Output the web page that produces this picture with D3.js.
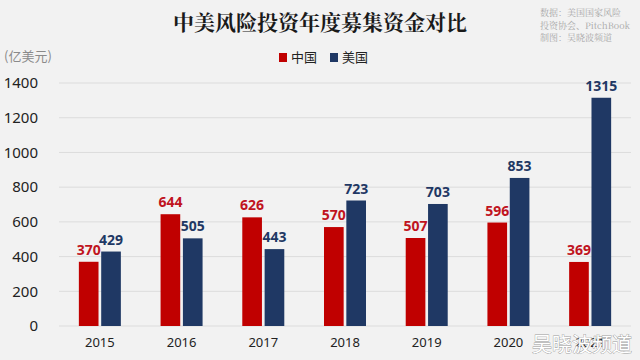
<!DOCTYPE html>
<html>
<head>
<meta charset="utf-8">
<script src="https://cdn.jsdelivr.net/npm/d3@7"></script>
<style>
  html, body { margin: 0; padding: 0; background: #f2f2f2; }
  svg { display: block; font-family: "Noto Sans CJK SC", "Noto Sans", sans-serif; }
</style>
</head>
<body>
<svg id="chart"></svg>
<script>
const years = ["2015", "2016", "2017", "2018", "2019", "2020", "2021"];
const china = [370, 644, 626, 570, 507, 596, 369];
const usa = [429, 505, 443, 723, 703, 853, 1315];
const yTicks = [0, 200, 400, 600, 800, 1000, 1200, 1400];
const seriesNames = ["中国", "美国"];

const width = 640, height = 360;
const margin = { top: 83, right: 9, bottom: 34, left: 59 };
const w = width - margin.left - margin.right;
const h = height - margin.top - margin.bottom;

const red = "#c00000", navy = "#1f3864";

const svg = d3.select("#chart").attr("width", width).attr("height", height);
svg.append("rect").attr("width", width).attr("height", height).attr("fill", "#f2f2f2");

const x = d3.scaleBand().domain(years).range([0, w]);
const inner = d3.scaleBand().domain(seriesNames).range([-21, 21]).paddingInner(0.12);
const y = d3.scaleLinear().domain([0, 1400]).range([h, 0]);

const g = svg.append("g").attr("transform", `translate(${margin.left},${margin.top})`);

// grid
g.append("g")
    .selectAll("line")
    .data(yTicks)
    .enter()
    .append("line")
    .attr("x1", 0)
    .attr("x2", w)
    .attr("y1", d => y(d))
    .attr("y2", d => y(d))
    .attr("stroke", "#dcdcdc")
    .attr("stroke-width", 1);

// y axis
const yAxis = g.append("g")
    .attr("transform", "translate(-18,0)")
    .call(d3.axisLeft(y).tickValues(yTicks).tickSize(0).tickFormat(d3.format("d")));
yAxis.select(".domain").remove();
yAxis.selectAll("text")
    .attr("font-size", 15)
    .attr("fill", "#222")
    .attr("font-family", "Noto Sans, sans-serif");

// x axis
const xAxis = g.append("g")
    .attr("transform", `translate(0,${h})`)
    .call(d3.axisBottom(x).tickSize(0).tickPadding(12));
xAxis.select(".domain").remove();
xAxis.selectAll("text")
    .attr("font-size", 13)
    .attr("fill", "#222")
    .attr("font-family", "Noto Sans, sans-serif");

// bars
const series = [
    { name: "中国", values: china, color: red, label: "#c0141e" },
    { name: "美国", values: usa, color: navy, label: "#1f3864" },
];

series.forEach(s => {
    const grp = g.append("g");
    grp.selectAll("rect")
        .data(years)
        .enter()
        .append("rect")
        .attr("x", (d, i) => x(d) + x.bandwidth() / 2 + inner(s.name))
        .attr("y", (d, i) => y(s.values[i]))
        .attr("width", inner.bandwidth())
        .attr("height", (d, i) => h - y(s.values[i]))
        .attr("fill", s.color);

    grp.selectAll("text")
        .data(years)
        .enter()
        .append("text")
        .attr("x", (d, i) => x(d) + x.bandwidth() / 2 + inner(s.name) + inner.bandwidth() / 2)
        .attr("y", (d, i) => y(s.values[i]) - 7)
        .attr("text-anchor", "middle")
        .attr("font-size", 14)
        .attr("font-weight", "bold")
        .attr("font-family", "Noto Sans, sans-serif")
        .attr("fill", s.label)
        .text((d, i) => s.values[i]);
});

// title
svg.append("text")
    .attr("x", 320)
    .attr("y", 30)
    .attr("text-anchor", "middle")
    .attr("font-size", 21)
    .attr("font-weight", "bold")
    .attr("fill", "#1a1a1a")
    .attr("font-family", "Noto Serif CJK SC, Noto Sans CJK SC, serif")
    .text("中美风险投资年度募集资金对比");

// source
const source = ["数据：美国国家风险", "投资协会、PitchBook", "制图：吴晓波频道"];
svg.append("g")
    .selectAll("text")
    .data(source)
    .enter()
    .append("text")
    .attr("x", 540)
    .attr("y", (d, i) => 16 + i * 12.5)
    .attr("font-size", 9)
    .attr("fill", "#a8a8a8")
    .attr("font-family", "Noto Serif CJK SC, DejaVu Serif, Liberation Serif, serif")
    .text(d => d);

// unit
svg.append("text")
    .attr("x", 4)
    .attr("y", 61)
    .attr("font-size", 13)
    .attr("fill", "#8a8a8a")
    .text("(亿美元)");

// legend
const legend = svg.append("g").attr("transform", "translate(279,53)");
const legendItems = legend.selectAll("g")
    .data(series)
    .enter()
    .append("g")
    .attr("transform", (d, i) => `translate(${i * 51},0)`);
legendItems.append("rect")
    .attr("width", 8)
    .attr("height", 9)
    .attr("fill", d => d.color);
legendItems.append("text")
    .attr("x", 12)
    .attr("y", 9)
    .attr("font-size", 13)
    .attr("fill", "#222")
    .text(d => d.name);

// watermark
svg.append("text")
    .attr("x", 632)
    .attr("y", 352)
    .attr("text-anchor", "end")
    .attr("font-size", 20)
    .attr("fill", "#ffffff")
    .attr("stroke", "#9a9a9a")
    .attr("stroke-width", 0.8)
    .attr("paint-order", "stroke")
    .text("吴晓波频道");
</script>
</body>
</html>
